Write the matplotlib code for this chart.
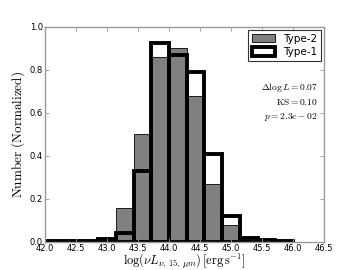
import matplotlib
matplotlib.use("Agg")
import matplotlib.pyplot as plt
import numpy as np

# histogram bin edges and normalized counts
bin_edges = np.linspace(42.0, 46.0, 15)
type2_counts = [0.002, 0.002, 0.003, 0.005, 0.16, 0.50, 0.86, 0.90, 0.68, 0.27, 0.08, 0.01, 0.004, 0.002]
type1_counts = [0.003, 0.003, 0.003, 0.015, 0.04, 0.33, 0.925, 0.87, 0.79, 0.41, 0.12, 0.02, 0.008, 0.003]
x_ticks = [42.0, 42.5, 43.0, 43.5, 44.0, 44.5, 45.0, 45.5, 46.0, 46.5]
y_ticks = [0.0, 0.2, 0.4, 0.6, 0.8, 1.0]
stats_lines = [r'$\Delta \log L = 0.07$', r'$\mathrm{KS} = 0.10$', r'$p = 2.3e-02$']

plt.rcParams['mathtext.fontset'] = 'cm'

fig = plt.figure(figsize=(3.6, 2.7), dpi=100)
ax = fig.add_axes([0.125, 0.104, 0.775, 0.796])

widths = np.diff(bin_edges)
ax.bar(bin_edges[:-1], type2_counts, width=widths, align='edge',
       color='#808080', edgecolor='black', linewidth=0.6, label='Type-2')
ax.bar(bin_edges[:-1], type1_counts, width=widths, align='edge',
       facecolor='none', edgecolor='black', linewidth=2.8, label='Type-1')

ax.set_xlim(42.0, 46.5)
ax.set_ylim(0.0, 1.0)
ax.set_xticks(x_ticks)
ax.set_yticks(y_ticks)
ax.set_xticklabels(['%.1f' % t for t in x_ticks])
ax.set_yticklabels(['%.1f' % t for t in y_ticks])
ax.tick_params(direction='in', top=True, right=True, labelsize=6,
               length=3, width=0.6, color='#999999', pad=1.5)
for sp in ax.spines.values():
    sp.set_color('#999999')
    sp.set_linewidth(1.0)

ax.set_xlabel(r'$\log(\nu L_{\nu,\,15,\,\mu m})\,[\mathrm{erg\,s^{-1}}]$', fontsize=9, labelpad=-1)
ax.set_ylabel(r'$\mathrm{Number\ (Normalized)}$', fontsize=9.5, labelpad=2)

leg = ax.legend(loc='upper right', fontsize=7.5, fancybox=False, borderaxespad=0.3,
                handlelength=2.2, handleheight=0.9, borderpad=0.35, labelspacing=0.3)
leg.get_frame().set_edgecolor('black')
leg.get_frame().set_linewidth(0.8)

for i, s in enumerate(stats_lines):
    ax.text(0.977, 0.718 - 0.068 * i, s, transform=ax.transAxes,
            ha='right', va='center', fontsize=6.8)

fig.savefig('out.png', dpi=100)
